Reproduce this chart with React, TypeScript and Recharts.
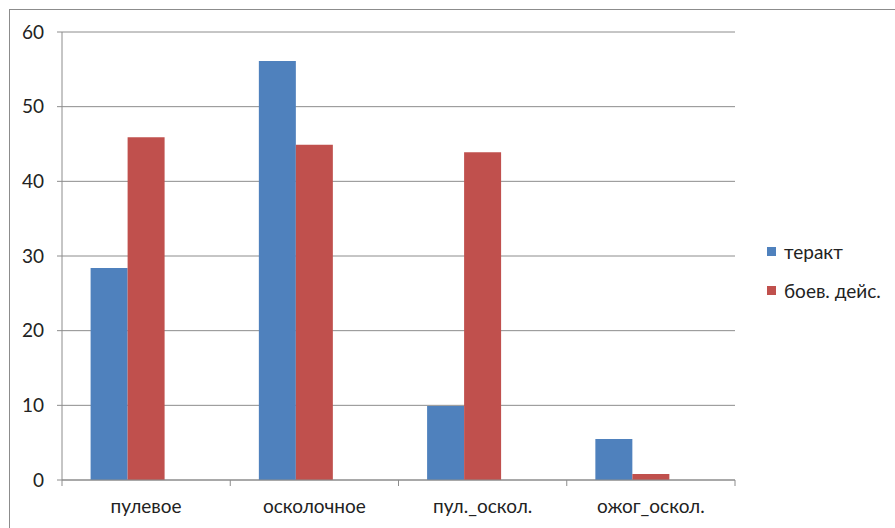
import { BarChart, Bar, XAxis, YAxis, CartesianGrid, Legend } from 'recharts'

const categories = ['пулевое', 'осколочное', 'пул._оскол.', 'ожог_оскол.']
const teraktValues = [28.4, 56.1, 9.9, 5.5]
const boevValues = [45.9, 44.9, 43.9, 0.8]
const yTicks = [0, 10, 20, 30, 40, 50, 60]

const series = [
  { key: 'terakt', name: 'теракт', color: '#4F81BD' },
  { key: 'boev', name: 'боев. дейс.', color: '#C0504D' },
]

const data = categories.map((name, i) => ({
  name,
  terakt: teraktValues[i],
  boev: boevValues[i],
}))

const FONT = 'Lato, "Open Sans", sans-serif'
const AXIS = '#8c8c8c'
const LEGEND_W = 127

function CategoryTick(props: any) {
  const { x, y, payload, index } = props
  const off = payload.offset ?? 0
  return (
    <g>
      {index === 0 && <line x1={x - off} x2={x - off} y1={y} y2={y + 6} stroke={AXIS} />}
      <line x1={x + off} x2={x + off} y1={y} y2={y + 6} stroke={AXIS} />
      <text x={x} y={y + 33} textAnchor="middle" fill="#222" fontSize={19} fontFamily={FONT}>
        {payload.value}
      </text>
    </g>
  )
}

function LegendBox() {
  return (
    <div style={{ fontFamily: FONT, fontSize: 19, color: '#222', width: LEGEND_W }}>
      {series.map((s) => (
        <div key={s.key} style={{ display: 'flex', alignItems: 'center', height: 39 }}>
          <span style={{ width: 9, height: 9, background: s.color, marginRight: 8, flexShrink: 0 }} />
          <span style={{ whiteSpace: 'nowrap' }}>{s.name}</span>
        </div>
      ))}
    </div>
  )
}

export default function App() {
  return (
    <div style={{ position: 'absolute', left: 0, top: 0, width: 895, height: 528, overflow: 'hidden', background: '#fff' }}>
      <div style={{ position: 'absolute', left: 9, top: 9, width: 900, height: 540, border: '1px solid #8c8c8c' }} />
      <div style={{ position: 'absolute', left: 0, top: 0 }}>
        <BarChart
          width={895}
          height={528}
          data={data}
          margin={{ top: 32, right: 160 - LEGEND_W, left: 0, bottom: 18 }}
          barGap={0}
          barCategoryGap="17%"
        >
          <CartesianGrid vertical={false} stroke={AXIS} strokeOpacity={1} />
          <XAxis
            dataKey="name"
            height={30}
            tickLine={false}
            tickSize={0}
            tickMargin={0}
            axisLine={{ stroke: AXIS }}
            tick={<CategoryTick />}
            interval={0}
          />
          <YAxis
            width={62}
            domain={[0, 60]}
            ticks={yTicks}
            interval={0}
            axisLine={{ stroke: AXIS }}
            tickLine={{ stroke: AXIS }}
            tickSize={5}
            tickMargin={13}
            tick={{ fill: '#222', fontSize: 19, fontFamily: FONT }}
          />
          <Legend
            layout="vertical"
            align="right"
            verticalAlign="top"
            content={<LegendBox />}
            wrapperStyle={{ left: 767, top: 232, width: LEGEND_W }}
          />
          {series.map((s) => (
            <Bar key={s.key} dataKey={s.key} name={s.name} fill={s.color} isAnimationActive={false} />
          ))}
          {/* the source chart reserves a slot for a third, empty series */}
          <Bar dataKey="empty" legendType="none" fill="none" isAnimationActive={false} />
        </BarChart>
      </div>
    </div>
  )
}
